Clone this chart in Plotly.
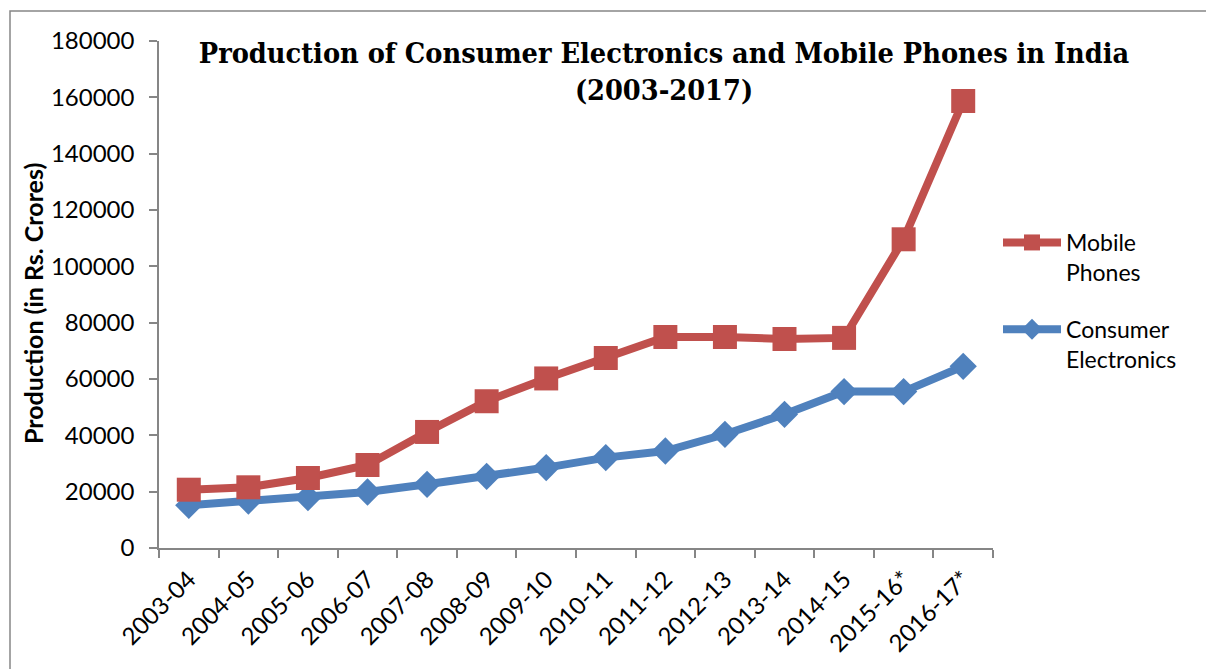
import plotly.graph_objects as go

# Fiscal years on the category axis
years = ["2003-04", "2004-05", "2005-06", "2006-07", "2007-08", "2008-09",
         "2009-10", "2010-11", "2011-12", "2012-13", "2013-14", "2014-15",
         "2015-16*", "2016-17*"]

# Production in Rs. Crores
mobile_phones = [20700, 21550, 24850, 29470, 41200, 52100, 60200,
                 67460, 74920, 74920, 74210, 74600, 109600, 158700]
consumer_electronics = [15160, 16690, 17890, 19880, 22620, 25460, 28550,
                        32090, 34440, 40370, 47470, 55530, 55530, 64510]

y_ticks = [0, 20000, 40000, 60000, 80000, 100000, 120000, 140000, 160000, 180000]

RED = "#C0504D"
BLUE = "#4F81BD"
AXIS = "#868686"
SANS = "Lato, 'Open Sans', sans-serif"
SERIF = "'DejaVu Serif Condensed', 'Liberation Serif', serif"

W, H = 1206, 669
L, R, T, B = 159, 213, 41, 121
plot_w = W - L - R
plot_h = H - T - B


def px_x(px):
    return (px - L) / plot_w


def px_y(py):
    return (H - B - py) / plot_h


fig = go.Figure()

fig.add_trace(go.Scatter(
    x=years, y=consumer_electronics, name="Consumer<br>Electronics",
    mode="lines+markers", legendgroup="ce", legendrank=2,
    line=dict(color=BLUE, width=8),
    marker=dict(symbol="diamond", size=21, color=BLUE),
))
fig.add_trace(go.Scatter(
    x=years, y=mobile_phones, name="Mobile<br>Phones",
    mode="lines+markers", legendgroup="mp", legendrank=1,
    line=dict(color=RED, width=8),
    marker=dict(symbol="square", size=24, color=RED),
))

fig.update_layout(
    width=W, height=H,
    margin=dict(l=L, r=R, t=T, b=B),
    paper_bgcolor="white", plot_bgcolor="white",
    font=dict(family=SANS, color="black"),
    title=dict(
        text="<b>Production of Consumer Electronics and Mobile Phones in India<br>(2003-2017)</b>",
        font=dict(family=SERIF, size=28.6, color="black"),
        x=664 / W, xref="container", xanchor="center",
        y=1 - 63 / H, yref="container", yanchor="top",
    ),
    xaxis=dict(
        type="category", categoryorder="array", categoryarray=years,
        range=[-0.5, len(years) - 0.5],
        showline=True, linecolor=AXIS, linewidth=1.5,
        ticks="outside", tickson="boundaries", ticklen=8, tickcolor=AXIS, tickwidth=1.5,
        tickangle=-45, tickfont=dict(family=SANS, size=24, color="black"),
        ticklabelstandoff=6,
        showgrid=False, zeroline=False,
    ),
    yaxis=dict(
        range=[0, 180000], tickvals=y_ticks, tickformat="d",
        showline=True, linecolor=AXIS, linewidth=1.5,
        ticks="outside", ticklen=8, tickcolor=AXIS, tickwidth=1.5,
        tickfont=dict(family=SANS, size=24, color="black"),
        ticklabelstandoff=10,
        showgrid=False, zeroline=False,
    ),
    legend=dict(
        x=px_x(998), y=px_y(221), xanchor="left", yanchor="top",
        font=dict(family=SANS, size=23, color="black"),
        valign="top", tracegroupgap=24, itemwidth=58,
        bgcolor="rgba(0,0,0,0)",
    ),
    annotations=[dict(
        text="<b>Production (in Rs. Crores)</b>", textangle=-90,
        xref="paper", yref="paper", x=px_x(33), y=px_y(304),
        xanchor="center", yanchor="middle", showarrow=False,
        font=dict(family=SANS, size=25, color="black"),
    )],
    shapes=[dict(
        type="rect", xref="paper", yref="paper",
        x0=px_x(10), x1=px_x(1212), y0=px_y(676), y1=px_y(11),
        line=dict(color=AXIS, width=1.5), fillcolor="rgba(0,0,0,0)", layer="below",
    )],
)

fig.write_html("out.html")
